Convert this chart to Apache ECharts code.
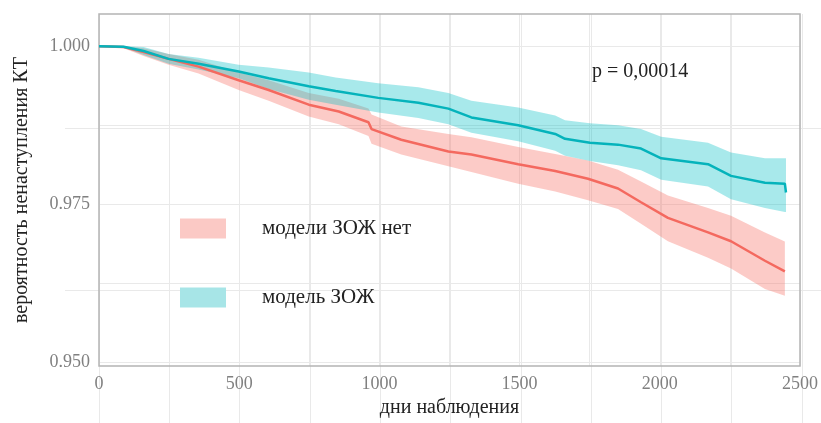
<!DOCTYPE html>
<html>
<head>
<meta charset="utf-8">
<script src="https://cdn.jsdelivr.net/npm/echarts@6/dist/echarts.min.js"></script>
<style>
  html, body { margin: 0; padding: 0; background: #fff; }
  #chart { width: 821px; height: 423px; }
</style>
</head>
<body>
<div id="chart"></div>
<script>
// Kaplan–Meier estimates: survival without CT and 95% confidence band
const noModelDays = [0, 88, 159, 248, 355, 498, 605, 748, 855, 961, 972, 1078, 1246, 1328, 1495, 1627, 1744, 1851, 1933, 2029, 2172, 2254, 2375, 2446];
const noModelSurv = [1, 0.99985, 0.99907, 0.99799, 0.99676, 0.99460, 0.99306, 0.99074, 0.98966, 0.98796, 0.98688, 0.98519, 0.98333, 0.98287, 0.98133, 0.98025, 0.97902, 0.97748, 0.97531, 0.97284, 0.97053, 0.96914, 0.96605, 0.96436];
const noModelUpper = [1, 1, 0.99969, 0.99877, 0.99784, 0.99583, 0.99460, 0.99259, 0.99167, 0.99012, 0.98920, 0.98730, 0.98612, 0.98560, 0.98405, 0.98295, 0.98190, 0.98045, 0.97860, 0.97639, 0.97439, 0.97315, 0.97053, 0.96911];
const noModelLower = [1, 0.99969, 0.99846, 0.99707, 0.99568, 0.99306, 0.99136, 0.98889, 0.98766, 0.98580, 0.98457, 0.98287, 0.98102, 0.98010, 0.97824, 0.97701, 0.97562, 0.97423, 0.97192, 0.96914, 0.96652, 0.96482, 0.96158, 0.96050];

const modelDays = [0, 88, 159, 248, 355, 498, 605, 748, 844, 996, 1139, 1246, 1328, 1495, 1627, 1662, 1751, 1851, 1933, 2005, 2172, 2254, 2375, 2446, 2450];
const modelSurv = [1, 0.99992, 0.99923, 0.99799, 0.99722, 0.99599, 0.99491, 0.99367, 0.99290, 0.99182, 0.99105, 0.99012, 0.98873, 0.98750, 0.98611, 0.98534, 0.98472, 0.98442, 0.98380, 0.98226, 0.98133, 0.97948, 0.97840, 0.97824, 0.97685];
const modelUpper = [1, 1, 0.99985, 0.99877, 0.99815, 0.99707, 0.99661, 0.99583, 0.99506, 0.99414, 0.99352, 0.99259, 0.99136, 0.99028, 0.98904, 0.98827, 0.98781, 0.98750, 0.98688, 0.98565, 0.98472, 0.98318, 0.98226, 0.98226, 0.98226];
const modelLower = [1, 0.99977, 0.99861, 0.99722, 0.99630, 0.99491, 0.99321, 0.99151, 0.99074, 0.98951, 0.98865, 0.98765, 0.98630, 0.98495, 0.98345, 0.98265, 0.98185, 0.98115, 0.98035, 0.97886, 0.97778, 0.97577, 0.97439, 0.97377, 0.97377];

const groupNames = ['модели ЗОЖ нет', 'модель ЗОЖ'];
const xTicks = [0, 250, 500, 750, 1000, 1250, 1500, 1750, 2000, 2250, 2500];
const xLabels = [0, 500, 1000, 1500, 2000, 2500];
const yTicks = [0.95, 0.9625, 0.975, 0.9875, 1.0];
const yLabels = [0.95, 0.975, 1.0];
const pValueText = 'p = 0,00014';

// layout
const W = 821, H = 423;
const plotL = 99, plotR = 802, plotT = 14, plotB = 375;
const xMin = 0, xMax = 2500;
const yMin = 0.94938, yMax = 1.00509;

const serif = '"Liberation Serif", "Times New Roman", serif';
const gridColor = '#e9e9e9';
const redLine = '#F4695F', tealLine = '#05B3BB';
const redBand = 'rgba(248,118,109,0.38)', tealBand = 'rgba(0,191,196,0.34)';

function bandSeries(name, days, lo, hi, color) {
  return {
    type: 'custom', name: name, xAxisIndex: 0, yAxisIndex: 0, silent: true, z: 2,
    data: days.map((d, i) => [d, lo[i], hi[i]]),
    encode: { x: 0, y: [1, 2] },
    renderItem: function (params, api) {
      if (params.dataIndex !== 0) return null;
      const pts = [];
      for (let i = 0; i < days.length; i++) pts.push(api.coord([days[i], hi[i]]));
      for (let i = days.length - 1; i >= 0; i--) pts.push(api.coord([days[i], lo[i]]));
      return { type: 'polygon', shape: { points: pts }, style: { fill: color } };
    }
  };
}

function lineSeries(name, days, surv, color) {
  return {
    type: 'line', name: name, xAxisIndex: 0, yAxisIndex: 0, z: 4, silent: true,
    showSymbol: false, symbol: 'none',
    data: days.map((d, i) => [d, surv[i]]),
    lineStyle: { color: color, width: 2.5 },
    itemStyle: { color: color }
  };
}

// an outer guide grid whose faint lines run past the plot frame
const pxPerDay = (plotR - plotL) / (xMax - xMin);
const pxPerUnit = (plotB - plotT) / (yMax - yMin);
const extL = 65;
const extXMin = xMin - (plotL - extL) / pxPerDay;
const extXMax = xMax + (W - plotR) / pxPerDay;
const extYMin = yMin - (H - plotB) / pxPerUnit;

const chart = echarts.init(document.getElementById('chart'), null, { renderer: 'canvas' });
chart.setOption({
  backgroundColor: '#fff',
  animation: false,
  grid: [
    { left: plotL, right: W - plotR, top: plotT, bottom: H - plotB, show: true, borderColor: '#b4b4b4', borderWidth: 1.5, backgroundColor: 'transparent', z: 3 },
    { left: extL, right: 0, top: plotT, bottom: 0, show: false }
  ],
  xAxis: [
    {
      type: 'value', gridIndex: 0, min: xMin, max: xMax,
      name: 'дни наблюдения', nameLocation: 'middle', nameGap: 28,
      nameTextStyle: { fontFamily: serif, fontSize: 20, color: '#222' },
      axisLine: { show: false }, axisTick: { show: false, customValues: xTicks },
      axisLabel: { customValues: xLabels, fontFamily: serif, fontSize: 18, color: '#808080', margin: 9,
        formatter: v => String(v) },
      splitLine: { show: true, lineStyle: { color: gridColor, width: 1 } }
    },
    {
      type: 'value', gridIndex: 1, min: extXMin, max: extXMax,
      axisLine: { show: false }, axisTick: { show: false, customValues: xTicks },
      axisLabel: { show: false },
      splitLine: { show: true, lineStyle: { color: gridColor, width: 1 } }
    }
  ],
  yAxis: [
    {
      type: 'value', gridIndex: 0, min: yMin, max: yMax,
      name: 'вероятность ненаступления КТ', nameLocation: 'middle', nameGap: 67,
      nameTextStyle: { fontFamily: serif, fontSize: 20, color: '#222' },
      axisLine: { show: false }, axisTick: { show: false, customValues: yTicks },
      axisLabel: { customValues: yLabels, fontFamily: serif, fontSize: 18, color: '#808080', margin: 9,
        formatter: v => v.toFixed(3) },
      splitLine: { show: true, lineStyle: { color: gridColor, width: 1 } }
    },
    {
      type: 'value', gridIndex: 1, min: extYMin, max: yMax,
      axisLine: { show: false }, axisTick: { show: false, customValues: [0.9625, 0.9875] },
      axisLabel: { show: false },
      splitLine: { show: true, lineStyle: { color: gridColor, width: 1 } }
    }
  ],
  legend: {
    orient: 'vertical', left: 175, top: 213, itemWidth: 46, itemHeight: 20, itemGap: 48,
    selectedMode: false,
    textStyle: { fontFamily: serif, fontSize: 21, color: '#222', padding: [0, 0, 0, 31], lineHeight: 20 },
    data: [
      { name: groupNames[0], icon: 'rect', itemStyle: { color: '#FBC9C5' } },
      { name: groupNames[1], icon: 'rect', itemStyle: { color: '#A7E5E7' } }
    ]
  },
  graphic: [
    { type: 'text', x: 592, y: 72, z: 10,
      style: { text: pValueText, font: '20px ' + serif, fill: '#222', verticalAlign: 'middle' } }
  ],
  series: [
    bandSeries(groupNames[0], noModelDays, noModelLower, noModelUpper, redBand),
    bandSeries(groupNames[1], modelDays, modelLower, modelUpper, tealBand),
    lineSeries(groupNames[0] + ' ', noModelDays, noModelSurv, redLine),
    lineSeries(groupNames[1] + ' ', modelDays, modelSurv, tealLine)
  ]
});
</script>
</body>
</html>
